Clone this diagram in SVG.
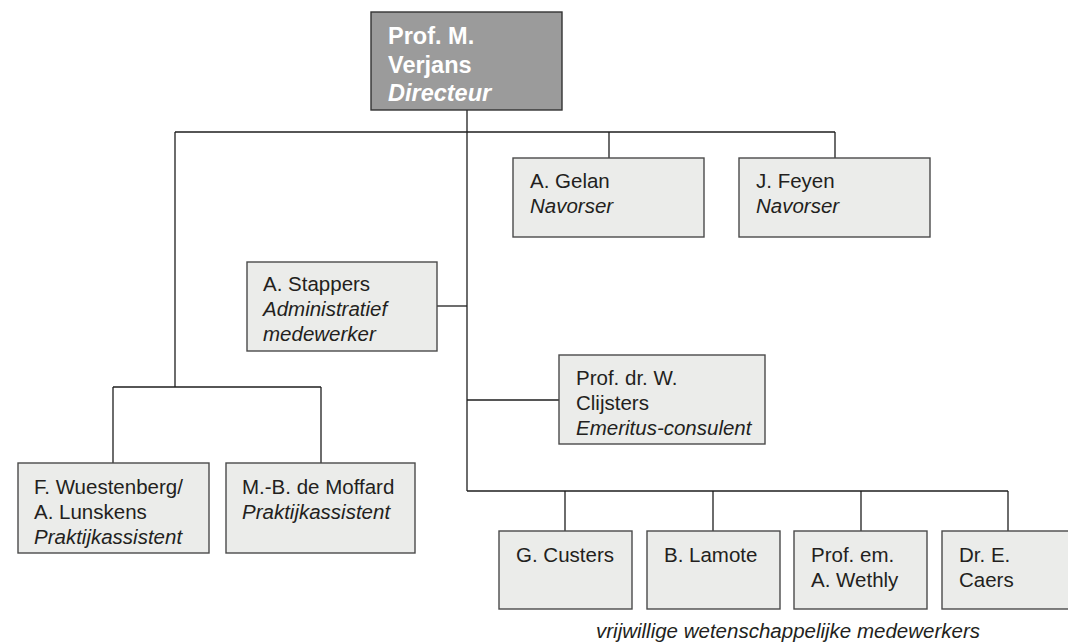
<svg xmlns="http://www.w3.org/2000/svg" width="1068" height="644" viewBox="0 0 1068 644">
<style>
.box{fill:#ebecea;stroke:#4a4a4a;stroke-width:1.4}
.top{fill:#9b9b9b;stroke:#333;stroke-width:1.4}
.t{font-family:"Liberation Sans",Arial,sans-serif;font-size:20.5px;fill:#231f20}
.i{font-style:italic}
.b{font-family:"Liberation Sans",Arial,sans-serif;font-size:23.5px;font-weight:bold;fill:#ffffff}
.c line{stroke:#1e1e1e;stroke-width:1.3}
</style>
<rect width="1068" height="644" fill="#ffffff"/>
<g class="c" id="connectors">
<line x1="467" y1="110" x2="467" y2="491"/>
<line x1="175" y1="132" x2="835" y2="132"/>
<line x1="609" y1="132" x2="609" y2="158"/>
<line x1="835" y1="132" x2="835" y2="158"/>
<line x1="175" y1="132" x2="175" y2="387"/>
<line x1="113" y1="387" x2="321" y2="387"/>
<line x1="113" y1="387" x2="113" y2="463"/>
<line x1="321" y1="387" x2="321" y2="463"/>
<line x1="437" y1="306" x2="467" y2="306"/>
<line x1="467" y1="400" x2="559" y2="400"/>
<line x1="467" y1="491" x2="1008" y2="491"/>
<line x1="565" y1="491" x2="565" y2="531"/>
<line x1="713" y1="491" x2="713" y2="531"/>
<line x1="861" y1="491" x2="861" y2="531"/>
<line x1="1008" y1="491" x2="1008" y2="531"/>
</g>
<g id="verjans">
<rect class="top" x="371" y="12" width="191" height="98"/>
<text class="b" x="388" y="44">Prof. M.</text>
<text class="b" x="388" y="72.5">Verjans</text>
<text class="b" x="388" y="101" font-style="italic">Directeur</text>
</g>
<g id="gelan">
<rect class="box" x="513" y="158" width="191" height="79"/>
<text class="t" x="530" y="188">A. Gelan</text>
<text class="t i" x="530" y="213">Navorser</text>
</g>
<g id="feyen">
<rect class="box" x="739" y="158" width="191" height="79"/>
<text class="t" x="756" y="188">J. Feyen</text>
<text class="t i" x="756" y="213">Navorser</text>
</g>
<g id="stappers">
<rect class="box" x="247" y="262" width="190" height="89"/>
<text class="t" x="263" y="291">A. Stappers</text>
<text class="t i" x="263" y="316">Administratief</text>
<text class="t i" x="263" y="341">medewerker</text>
</g>
<g id="clijsters">
<rect class="box" x="559" y="355" width="206" height="89"/>
<text class="t" x="576" y="385">Prof. dr. W.</text>
<text class="t" x="576" y="410">Clijsters</text>
<text class="t i" x="576" y="435">Emeritus-consulent</text>
</g>
<g id="wuestenberg">
<rect class="box" x="18" y="463" width="191" height="90"/>
<text class="t" x="34" y="494">F. Wuestenberg/</text>
<text class="t" x="34" y="519">A. Lunskens</text>
<text class="t i" x="34" y="544">Praktijkassistent</text>
</g>
<g id="moffard">
<rect class="box" x="226" y="463" width="189" height="90"/>
<text class="t" x="242" y="494">M.-B. de Moffard</text>
<text class="t i" x="242" y="519">Praktijkassistent</text>
</g>
<g id="custers">
<rect class="box" x="499" y="531" width="133" height="78"/>
<text class="t" x="516" y="562">G. Custers</text>
</g>
<g id="lamote">
<rect class="box" x="647" y="531" width="133" height="78"/>
<text class="t" x="664" y="562">B. Lamote</text>
</g>
<g id="wethly">
<rect class="box" x="794" y="531" width="133" height="78"/>
<text class="t" x="811" y="562">Prof. em.</text>
<text class="t" x="811" y="587">A. Wethly</text>
</g>
<g id="caers">
<rect class="box" x="942" y="531" width="133" height="78"/>
<text class="t" x="959" y="562">Dr. E.</text>
<text class="t" x="959" y="587">Caers</text>
</g>
<text class="t i" x="788" y="638" text-anchor="middle">vrijwillige wetenschappelijke medewerkers</text>
</svg>
